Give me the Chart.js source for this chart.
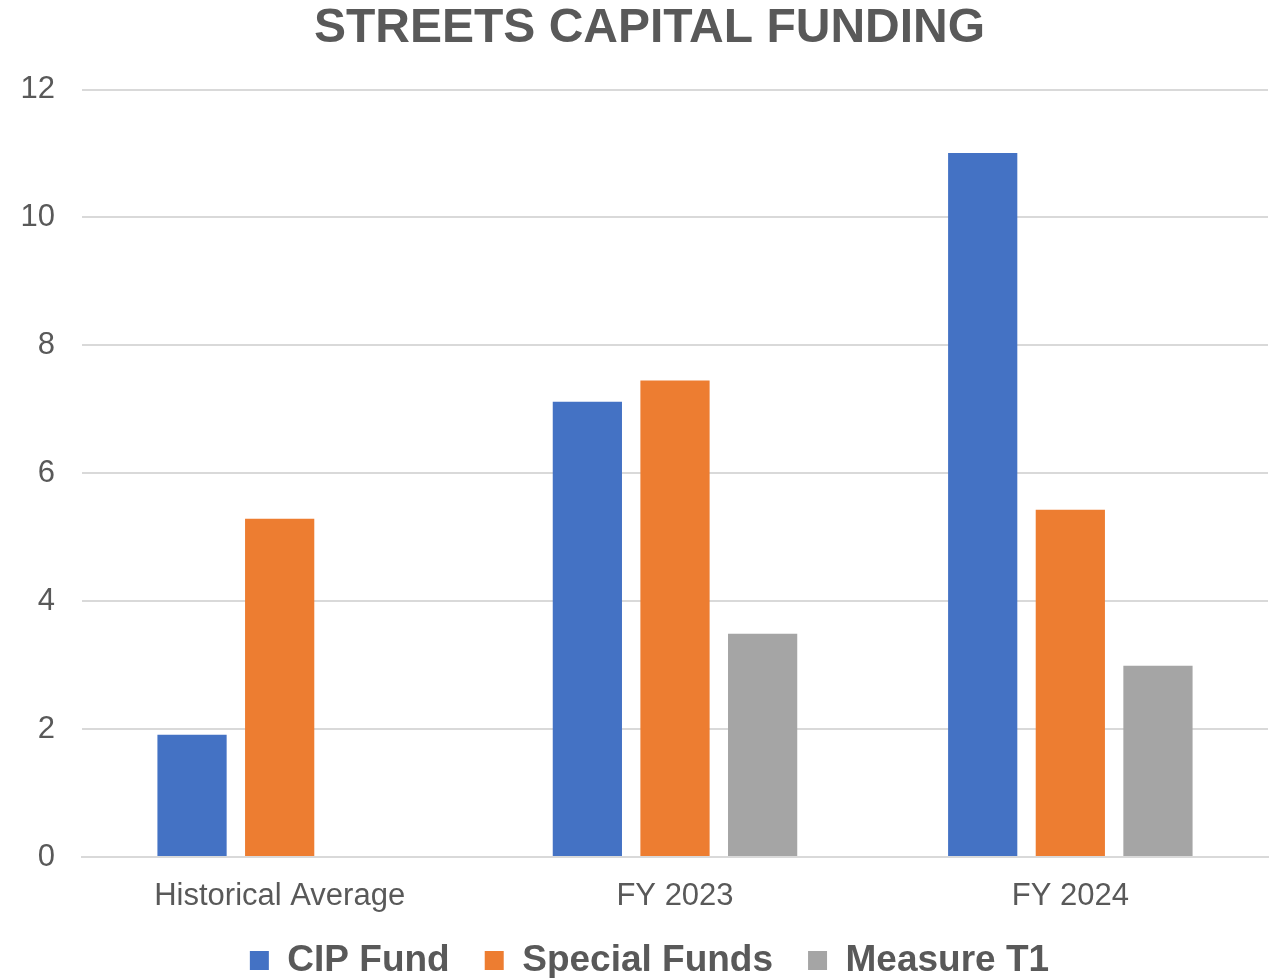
<!DOCTYPE html>
<html>
<head>
<meta charset="utf-8">
<script src="https://cdn.jsdelivr.net/npm/chart.js@4.4.0/dist/chart.umd.min.js"></script>
<style>
  html, body { margin: 0; padding: 0; background: #fff; }
  #wrap { width: 1281px; height: 978px; position: relative; }
</style>
</head>
<body>
<div id="wrap"><canvas id="grafico"></canvas></div>
<script>
/* ----- Datos ----- */
const categorias = ["Historical Average", "FY 2023", "FY 2024"];
const cipFund = [1.91, 7.12, 11.01];
const specialFunds = [5.29, 7.45, 5.43];
const measureT1 = [null, 3.49, 2.99];
const ticksY = [0, 2, 4, 6, 8, 10, 12];

const gris = "#595959";

/* ----- Altura fija de la leyenda ----- */
const alturaLeyenda = {
    id: "alturaLeyenda",
    beforeInit(chart) {
        const fitOriginal = chart.legend.fit;
        chart.legend.fit = function () {
            fitOriginal.call(this);
            this.height = 71;
        };
    },
    // que las etiquetas del eje x no se recorten
    afterLayout(chart) {
        chart.scales.x.bottom = chart.height;
    }
};

new Chart(document.getElementById("grafico"), {
    type: "bar",
    data: {
        labels: categorias,
        datasets: [
            { label: "CIP Fund", data: cipFund, backgroundColor: "#4472c4" },
            { label: "Special Funds", data: specialFunds, backgroundColor: "#ed7d31" },
            { label: "Measure T1", data: measureT1, backgroundColor: "#a5a5a5" }
        ]
    },
    plugins: [alturaLeyenda],
    options: {
        responsive: true,
        maintainAspectRatio: false,
        animation: false,
        categoryPercentage: 0.665,
        barPercentage: 0.79,
        layout: { padding: { left: 18, right: 0, top: 0, bottom: 0 } },
        plugins: {
            title: {
                display: true,
                text: "STREETS CAPITAL FUNDING",
                color: gris,
                font: { family: "Liberation Sans", size: 48, weight: "bold" },
                padding: { top: 0, bottom: 32 }
            },
            legend: {
                position: "bottom",
                labels: {
                    color: gris,
                    font: { family: "Liberation Sans", size: 37, weight: "bold" },
                    boxWidth: 19,
                    boxHeight: 19,
                    padding: 35
                }
            },
            tooltip: { enabled: false }
        },
        scales: {
            x: {
                afterFit: axis => { axis.height = 50; },
                grid: { display: false },
                border: { color: "#d9d9d9", width: 2 },
                ticks: {
                    color: gris,
                    font: { family: "Liberation Sans", size: 31 },
                    padding: 13
                }
            },
            y: {
                min: ticksY[0],
                max: ticksY[ticksY.length - 1],
                afterBuildTicks: axis => { axis.ticks = ticksY.map(v => ({ value: v })); },
                afterFit: axis => { axis.width = 64; },
                grid: { color: "#d9d9d9", lineWidth: 2, drawTicks: false },
                border: { display: false },
                ticks: {
                    color: gris,
                    font: { family: "Liberation Sans", size: 31 },
                    padding: 27
                }
            },
            margen: {
                position: "right",
                afterFit: axis => { axis.width = 13; },
                grid: { display: false },
                border: { display: false },
                ticks: { display: false }
            }
        }
    }
});
</script>
</body>
</html>
